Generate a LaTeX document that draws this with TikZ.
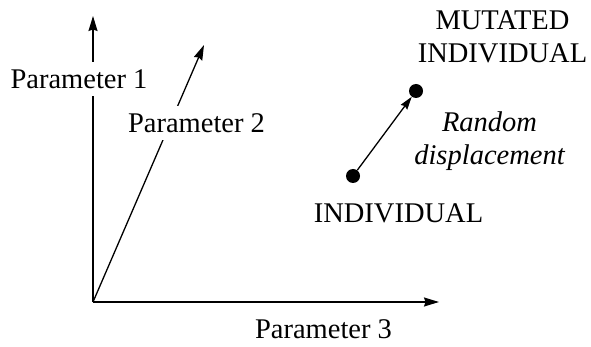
\documentclass[tikz,border=0pt]{standalone}
\usepackage{fontspec}
\setmainfont{Liberation Serif}
\usetikzlibrary{arrows.meta}
\begin{document}
\begin{tikzpicture}[x=1pt,y=-1pt,
  axis/.style={line width=1.3pt,-{Stealth[length=15pt,width=9pt,inset=1.5pt]}},
  move/.style={line width=1.3pt,-{Stealth[length=13pt,width=8pt,inset=1.5pt]}},
  lbl/.style={font=\fontsize{28.5}{33}\selectfont,inner sep=1pt},
  lblbg/.style={lbl,fill=white,text height=26pt,text depth=6pt},
  dot/.style={circle,fill=black,inner sep=0pt,minimum size=14pt}]
  \useasboundingbox (0,0) rectangle (591,347);
  % axes
  \coordinate (O) at (93,302);
  \coordinate (p1) at (93,16);
  \coordinate (p2) at (204,45);
  \coordinate (p3) at (439,302);
  \draw[axis] (O) -- (p1);
  \draw[axis] (O) -- (p2);
  \draw[axis] (O) -- (p3);
  % axis labels, on white so that the axes stop behind them
  \node[lblbg,anchor=base] (l1) at (79,89) {Parameter 1};
  \node[lblbg,anchor=base] (l2) at (196.5,133) {Parameter 2};
  \node[lbl,anchor=base] (l3) at (323.5,338) {Parameter 3};
  % individual and its mutation
  \node[dot] (ind) at (353,176) {};
  \node[dot] (mut) at (416,91) {};
  \draw[move] (ind) -- (mut);
  \node[lbl,anchor=base] (tind) at (398.5,223) {INDIVIDUAL};
  \node[lbl,align=center] (tmut) at (502.5,37) {MUTATED\\INDIVIDUAL};
  \node[lbl,align=center,font=\fontsize{28.5}{33}\selectfont\itshape] (tdisp) at (489.5,141) {Random\\displacement};
\end{tikzpicture}
\end{document}
